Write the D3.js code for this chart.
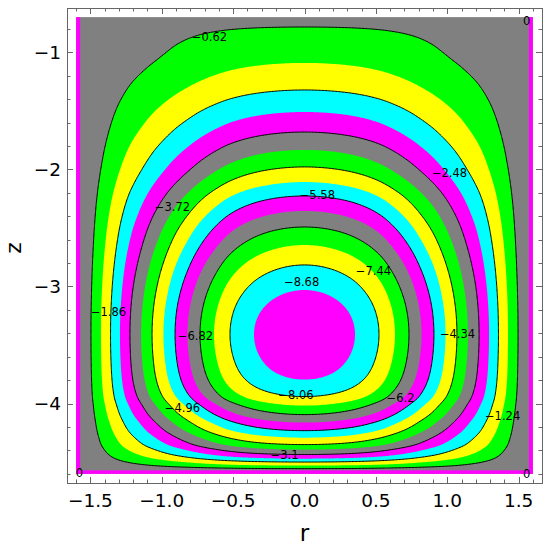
<!DOCTYPE html>
<html>
<head>
<meta charset="utf-8">
<script src="https://cdn.jsdelivr.net/npm/d3@7"></script>
<style>
  body { margin: 0; background: #fff; }
  svg { display: block; }
  text { font-family: "DejaVu Sans", "Liberation Sans", Arial, sans-serif; }
</style>
</head>
<body>
<div id="chart"></div>
<script>
// contour levels of the stream function (k = 1..14)
const levels = [-0.62, -1.24, -1.86, -2.48, -3.1, -3.72, -4.34, -4.96, -5.58, -6.2, -6.82, -7.44, -8.06, -8.68]
// only every other level carries a visible black line
const lineLevels = [-0.62, -1.86, -3.1, -4.34, -5.58, -6.82, -8.06]
const bandColors = ["#808080", "#00ff00", "#ffff00", "#00ffff", "#ff00ff"]

const psiMin = -9.15
const rWall = [-1.6, 1.6]
const zWall = [-4.6, -0.7]
const zCenter = -3.41

// where each level crosses the centre row (r > 0) and the centre column (above / below the core)
const rCross = [1.496, 1.426, 1.359, 1.293, 1.223, 1.145, 1.068, 0.988, 0.907, 0.82, 0.732, 0.634, 0.522, 0.354]
const zCrossTop = [-0.784, -1.091, -1.322, -1.51, -1.681, -1.834, -1.979, -2.108, -2.227, -2.355, -2.492, -2.646, -2.816, -3.03]
const zCrossBot = [-4.555, -4.529, -4.499, -4.47, -4.435, -4.393, -4.35, -4.291, -4.231, -4.162, -4.094, -4.017, -3.94, -3.795]

// contour labels
const labelText = ["\u22120.62", "\u22121.24", "\u22121.86", "\u22122.48", "\u22123.1", "\u22123.72", "\u22124.34",
  "\u22124.96", "\u22125.58", "\u22126.2", "\u22126.82", "\u22127.44", "\u22128.06", "\u22128.68", "0", "0", "0"]
const labelR = [-0.666, 1.388, -1.373, 1.016, -0.14, -0.925, 1.072, -0.855, 0.09, 0.673, -0.764, 0.483, -0.06, -0.02, 1.556, -1.577, 1.556]
const labelZ = [-0.866, -4.11, -3.214, -2.028, -4.436, -2.318, -3.403, -4.034, -2.216, -3.949, -3.42, -2.864, -3.923, -2.96, -0.73, -4.59, -4.6]

const xTickValues = [-1.5, -1.0, -0.5, 0.0, 0.5, 1.0, 1.5]
const xTickLabels = ["\u22121.5", "\u22121.0", "\u22120.5", "0.0", "0.5", "1.0", "1.5"]
const yTickValues = [-1, -2, -3, -4]
const yTickLabels = ["\u22121", "\u22122", "\u22123", "\u22124"]

const width = 548
const height = 550
const frame = { left: 67, top: 8, right: 542, bottom: 483 }
const step = 0.01
const stripR = 0.028
const stripZ = 0.03
const blend = 0.03   // how the row and column profiles are joined at the corners

const x = d3.scaleLinear().domain([-1.664, 1.664]).range([frame.left, frame.right])
const y = d3.scaleLinear().domain([-4.678, -0.622]).range([frame.bottom, frame.top])

// monotone cubic through the crossing points, in squared distance from the core
function profile(dist) {
  const xs = dist.map(d => d * d)
  const ys = [psiMin, ...levels.slice().reverse(), 0]
  const n = xs.length
  const h = [], s = []
  for (let i = 0; i < n - 1; i++) {
    h[i] = xs[i + 1] - xs[i]
    s[i] = (ys[i + 1] - ys[i]) / h[i]
  }
  const t = [s[0]]
  for (let i = 1; i < n - 1; i++) {
    t[i] = s[i - 1] * s[i] <= 0 ? 0
      : 3 * (h[i - 1] + h[i]) / ((2 * h[i] + h[i - 1]) / s[i - 1] + (h[i] + 2 * h[i - 1]) / s[i])
  }
  t[n - 1] = s[n - 2]
  return function (d) {
    const q = d * d
    if (q >= xs[n - 1]) return 0
    const i = Math.max(0, Math.min(n - 2, d3.bisectRight(xs, q) - 1))
    const u = (q - xs[i]) / h[i]
    const u2 = u * u, u3 = u2 * u
    return (2 * u3 - 3 * u2 + 1) * ys[i] + (u3 - 2 * u2 + u) * h[i] * t[i]
      + (-2 * u3 + 3 * u2) * ys[i + 1] + (u3 - u2) * h[i] * t[i + 1]
  }
}

const rProfile = profile([0, ...rCross.slice().reverse(), rWall[1]])
const zTopProfile = profile([0, ...zCrossTop.map(z => z - zCenter).reverse(), zWall[1] - zCenter])
const zBotProfile = profile([0, ...zCrossBot.map(z => zCenter - z).reverse(), zCenter - zWall[0]])

function psi(r, z) {
  const F = rProfile(Math.abs(r)) / psiMin
  const dz = z - zCenter
  const G = (dz >= 0 ? zTopProfile(dz) : zBotProfile(-dz)) / psiMin
  if (F <= 0 || G <= 0) return 0
  return psiMin * Math.pow(Math.pow(F, -blend) + Math.pow(G, -blend) - 1, -1 / blend)
}

const nx = Math.round((rWall[1] - rWall[0]) / step) + 1
const nz = Math.round((zWall[1] - zWall[0]) / step) + 1
const values = new Float64Array(nx * nz)
for (let j = 0; j < nz; j++) {
  const z = zWall[1] - j * step
  for (let i = 0; i < nx; i++) {
    values[j * nx + i] = -psi(rWall[0] + i * step, z)
  }
}

const contours = d3.contours()
  .size([nx, nz])
  .thresholds(levels.map(v => -v))(values)

const proj = d3.geoTransform({
  point: function (px, py) {
    this.stream.point(x(rWall[0] + (px - 0.5) * step), y(zWall[1] - (py - 0.5) * step))
  }
})
const path = d3.geoPath(proj)

const svg = d3.select("#chart")
  .append("svg")
  .attr("width", width)
  .attr("height", height)

// bands
svg.append("rect")
  .attr("x", x(rWall[0]))
  .attr("y", y(zWall[1]))
  .attr("width", x(rWall[1]) - x(rWall[0]))
  .attr("height", y(zWall[0]) - y(zWall[1]))
  .attr("fill", bandColors[0])

svg.append("g")
  .selectAll("path")
  .data(contours)
  .join("path")
  .attr("d", path)
  .attr("fill", (d, i) => bandColors[(i + 1) % bandColors.length])

// thin strips along the side walls and the bottom
const strips = svg.append("g").attr("fill", bandColors[4])
strips.append("rect")
  .attr("x", x(rWall[0])).attr("y", y(zWall[1]))
  .attr("width", x(rWall[0] + stripR) - x(rWall[0]))
  .attr("height", y(zWall[0]) - y(zWall[1]))
strips.append("rect")
  .attr("x", x(rWall[1] - stripR)).attr("y", y(zWall[1]))
  .attr("width", x(rWall[1]) - x(rWall[1] - stripR))
  .attr("height", y(zWall[0]) - y(zWall[1]))
strips.append("rect")
  .attr("x", x(rWall[0])).attr("y", y(zWall[0] + stripZ))
  .attr("width", x(rWall[1]) - x(rWall[0]))
  .attr("height", y(zWall[0]) - y(zWall[0] + stripZ))

// black contour lines
svg.append("g")
  .selectAll("path")
  .data(contours.filter((d, i) => lineLevels.includes(levels[i])))
  .join("path")
  .attr("d", path)
  .attr("fill", "none")
  .attr("stroke", "#000")
  .attr("stroke-width", 1)

// contour labels
svg.append("g")
  .selectAll("text")
  .data(labelText)
  .join("text")
  .attr("x", (d, i) => x(labelR[i]))
  .attr("y", (d, i) => y(labelZ[i]))
  .attr("text-anchor", "middle")
  .attr("dominant-baseline", "central")
  .attr("font-size", 11.5)
  .attr("fill", "#000")
  .text(d => d)

// frame and ticks
const frameG = svg.append("g").attr("stroke", "#666").attr("fill", "none")
frameG.append("rect")
  .attr("x", frame.left + 0.5).attr("y", frame.top + 0.5)
  .attr("width", frame.right - frame.left).attr("height", frame.bottom - frame.top)

const xMinor = d3.range(-16, 17).map(i => i / 10)
const yMinor = d3.range(-23, -3).map(i => i / 5)
const majorLen = 6
const minorLen = 3.5
const isMajorX = v => xTickValues.some(t => Math.abs(t - v) < 1e-6)
const isMajorY = v => yTickValues.some(t => Math.abs(t - v) < 1e-6)

xMinor.forEach(v => {
  const px = Math.round(x(v)) + 0.5
  const len = isMajorX(v) ? majorLen : minorLen
  frameG.append("line").attr("x1", px).attr("x2", px).attr("y1", frame.bottom).attr("y2", frame.bottom - len)
  frameG.append("line").attr("x1", px).attr("x2", px).attr("y1", frame.top).attr("y2", frame.top + len)
})
yMinor.forEach(v => {
  if (y(v) < frame.top || y(v) > frame.bottom) return
  const py = Math.round(y(v)) + 0.5
  const len = isMajorY(v) ? majorLen : minorLen
  frameG.append("line").attr("y1", py).attr("y2", py).attr("x1", frame.left).attr("x2", frame.left + len)
  frameG.append("line").attr("y1", py).attr("y2", py).attr("x1", frame.right).attr("x2", frame.right - len)
})

svg.append("g")
  .selectAll("text")
  .data(xTickValues)
  .join("text")
  .attr("x", d => x(d))
  .attr("y", 507)
  .attr("text-anchor", "middle")
  .attr("font-size", 18.5)
  .text((d, i) => xTickLabels[i])

svg.append("g")
  .selectAll("text")
  .data(yTickValues)
  .join("text")
  .attr("x", 61)
  .attr("y", d => y(d))
  .attr("text-anchor", "end")
  .attr("dominant-baseline", "central")
  .attr("font-size", 18.5)
  .text((d, i) => yTickLabels[i])

svg.append("text")
  .attr("x", x(0))
  .attr("y", 541)
  .attr("text-anchor", "middle")
  .attr("font-size", 23)
  .text("r")

svg.append("text")
  .attr("transform", "translate(13,248) rotate(-90)")
  .attr("text-anchor", "middle")
  .attr("dominant-baseline", "central")
  .attr("font-size", 22)
  .text("z")
</script>
</body>
</html>
